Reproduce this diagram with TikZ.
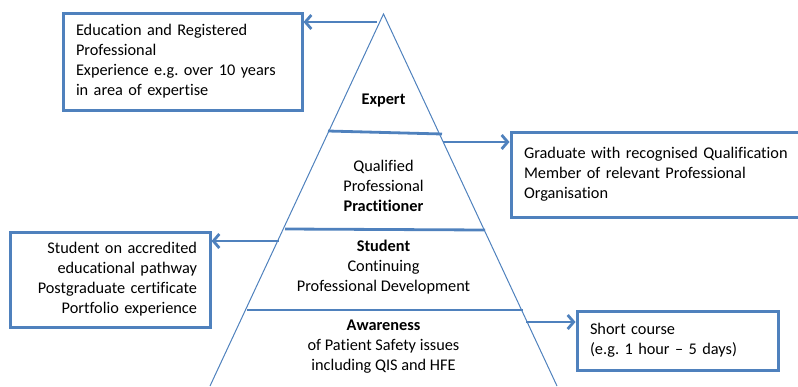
\documentclass[tikz,border=0pt]{standalone}
\usepackage{fontspec}
\setmainfont{Carlito}[Ligatures=NoCommon]
\usetikzlibrary{arrows.meta,calc}
\definecolor{ob}{HTML}{4F81BD}
\tikzset{
  box/.style={draw=ob, line width=3pt, inner xsep=13pt, inner ysep=0pt, font=\fontsize{16.3}{20}\selectfont},
  lbl/.style={align=center, inner sep=0pt, font=\fontsize{16.3}{20}\selectfont},
  side/.style={draw=ob, line width=1pt},
  divider/.style={draw=ob, line width=2.8pt},
  conn/.style={draw=ob, line width=2.8pt, -{Straight Barb[length=6pt,width=14pt,line width=2.8pt]}}
}
\begin{document}
\frenchspacing
\begin{tikzpicture}[x=1pt,y=-1pt]
\useasboundingbox (0,0) rectangle (798,386);
% triangle
\coordinate (apex) at (383.5,14);
\coordinate (bl) at (210,386);
\coordinate (br) at (557,386);
\draw[side] (bl) -- (apex) -- (br);
% dividers
\coordinate (d1l) at (328,131);
\coordinate (d1r) at (442,134);
\coordinate (d2l) at (285,229);
\coordinate (d2r) at (485,230);
\coordinate (d3l) at (247,310);
\coordinate (d3r) at (523,310);
\draw[divider] (d1l) -- (d1r);
\draw[divider] (d2l) -- (d2r);
\draw[divider] (d3l) -- (d3r);
% labels
\node[lbl] (expert) at (383.5,100) {\textbf{Expert}};
\node[lbl] (pract) at (383.5,185.5) {Qualified\\Professional\\\textbf{Practitioner}};
\node[lbl] (student) at (383.5,267) {\textbf{Student}\\Continuing\\Professional Development};
\node[lbl] (aware) at (383.5,347) {\textbf{Awareness}\\of Patient Safety issues\\including QIS and HFE};
% boxes
\node[box, minimum width=239pt, minimum height=97pt, text width=213pt, align=left] (b1) at (182.5,61.5)
  {Education and Registered\\Professional\\Experience e.g. over 10 years\\in area of expertise};
\node[box, minimum width=299pt, minimum height=85pt, text width=273pt, align=left] (b2) at (660.5,174.5)
  {Graduate with recognised Qualification\\Member of relevant Professional\\Organisation};
\node[box, minimum width=200pt, minimum height=95pt, text width=174pt, align=right] (b3) at (110,279.5)
  {Student on accredited\\educational pathway\\Postgraduate certificate\\Portfolio experience};
\node[box, minimum width=201pt, minimum height=59pt, text width=175pt, align=left] (b4) at (677.5,340.5)
  {Short course\\(e.g. 1 hour -- 5 days)};
% connectors
\coordinate (a1) at (377,22);
\coordinate (a2) at (443,142);
\coordinate (a3) at (279,241);
\coordinate (a4) at (526,322);
\draw[conn] (a1) -- (a1 -| b1.east);
\draw[conn] (a2) -- (a2 -| b2.west);
\draw[conn] (a3) -- (a3 -| b3.east);
\draw[conn] (a4) -- (a4 -| b4.west);
\end{tikzpicture}
\end{document}
